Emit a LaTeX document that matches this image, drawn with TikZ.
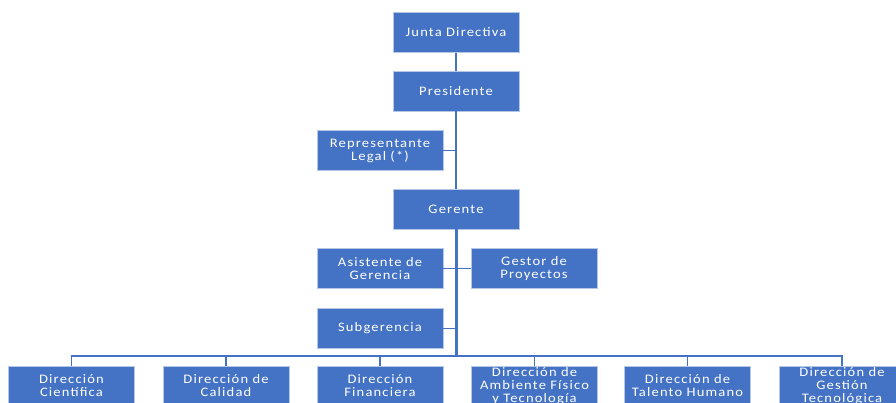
\documentclass[tikz,border=0pt]{standalone}
\usepackage{fontspec}
\newfontfamily\boxfont{Carlito}[LetterSpace=9,FakeStretch=1.12]
\definecolor{boxblue}{HTML}{4472C4}
\definecolor{edgepale}{HTML}{B4C7E7}
\begin{document}
\begin{tikzpicture}[x=1pt,y=-1pt,
  orgbox/.style={rectangle, fill=boxblue, draw=edgepale, line width=0.6pt,
    minimum width=126pt, minimum height=40pt, inner sep=0pt, text width=126pt,
    text=white, align=center, font=\boxfont\fontsize{13}{13}\selectfont},
  link/.style={draw=boxblue, line width=1.5pt},
  trunk/.style={draw=boxblue, line width=3pt}]
\useasboundingbox (0,0) rectangle (896,403);
\clip (0,0) rectangle (896,403);
\fill[white] (0,0) rectangle (896,403);

\node[orgbox] (junta) at (456,32.5) {Junta Directiva};
\node[orgbox] (pres) at (456,91) {Presidente};
\node[orgbox] (rep) at (380,150.5) {Representante\\Legal (*)};
\node[orgbox] (ger) at (456,209) {Gerente};
\node[orgbox] (asis) at (380,268.5) {Asistente de\\Gerencia};
\node[orgbox] (gest) at (534,268.5) {Gestor de\\Proyectos};
\node[orgbox] (sub) at (380,328.5) {Subgerencia};

\node[orgbox] (d1) at (71.5,386) {Dirección\\Científica};
\node[orgbox] (d2) at (226,386) {Dirección de\\Calidad};
\node[orgbox] (d3) at (380,386) {Dirección\\Financiera};
\node[orgbox] (d4) at (534.5,386) {Dirección de\\Ambiente Físico\\y Tecnología};
\node[orgbox] (d5) at (687.5,386) {Dirección de\\Talento Humano};
\node[orgbox] (d6) at (842,386) {Dirección de\\Gestión\\Tecnológica};

\coordinate (bus) at (456,356);

\draw[link] (junta.south) -- (pres.north);
\draw[link] (pres.south) -- (ger.north);
\draw[link] (rep.east) -- (rep.east -| ger.north);
\draw[trunk] (ger.south) -- (bus);
\draw[link] (asis.east) -- (gest.west);
\draw[link] (sub.east) -- (sub.east -| ger.south);
\foreach \d in {d1,d2,d3,d4,d5,d6} {
  \draw[link] (bus) -| (\d.north);
}
\end{tikzpicture}
\end{document}
